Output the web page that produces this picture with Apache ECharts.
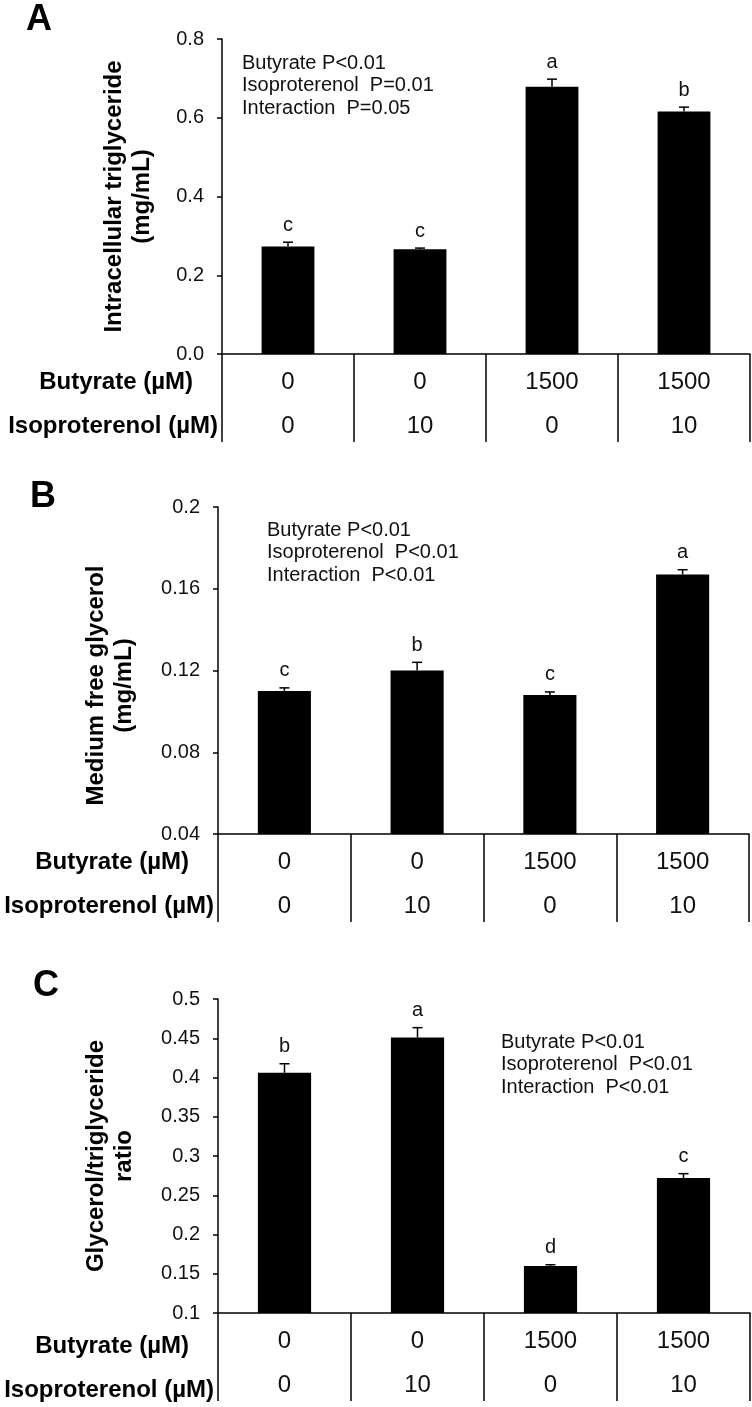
<!DOCTYPE html>
<html>
<head>
<meta charset="utf-8">
<script src="https://cdn.jsdelivr.net/npm/echarts@6/dist/echarts.min.js"></script>
<style>
html,body{margin:0;padding:0;background:#fff;}
#chart{width:752px;height:1407px;}
</style>
</head>
<body>
<div id="chart"></div>
<script>
// ---- data ----
var butyrate = ['0', '0', '1500', '1500'];
var isoproterenol = ['0', '10', '0', '10'];

var triglyceride = [0.273, 0.266, 0.679, 0.616];
var triglycerideErr = [0.011, 0.003, 0.019, 0.011];
var triglycerideLetters = ['c', 'c', 'a', 'b'];

var glycerol = [0.110, 0.120, 0.108, 0.167];
var glycerolErr = [0.0015, 0.004, 0.0015, 0.0023];
var glycerolLetters = ['c', 'b', 'c', 'a'];

var ratio = [0.406, 0.451, 0.160, 0.272];
var ratioErr = [0.0115, 0.0125, 0.0015, 0.0055];
var ratioLetters = ['b', 'a', 'd', 'c'];

var statsA = ['Butyrate P<0.01', 'Isoproterenol  P=0.01', 'Interaction  P=0.05'];
var statsB = ['Butyrate P<0.01', 'Isoproterenol  P<0.01', 'Interaction  P<0.01'];
var statsC = ['Butyrate P<0.01', 'Isoproterenol  P<0.01', 'Interaction  P<0.01'];

var rowLabels = ['Butyrate (\u00b5M)', 'Isoproterenol (\u00b5M)'];
var panelLetters = ['A', 'B', 'C'];
var yTitles = ['Intracellular triglyceride\n(mg/mL)', 'Medium free glycerol\n(mg/mL)', 'Glycerol/triglyceride\nratio'];

// ---- chart ----
var FONT = "'Liberation Sans', Arial, Helvetica, sans-serif";
var categories = butyrate.map(function (b, i) { return b + ' / ' + isoproterenol[i]; });

var grids = [
  {left: 222, top: 39, width: 528, height: 315},
  {left: 218, top: 507, width: 531, height: 327},
  {left: 218, top: 999, width: 532, height: 319}
];
var yRanges = [
  {min: 0, max: 0.8, interval: 0.2, dec: 1, gap: 66},
  {min: 0.04, max: 0.2, interval: 0.04, dec: 2, gap: 80},
  {min: 0.1, max: 0.5, interval: 0.05, dec: 2, gap: 80}
];
var values = [triglyceride, glycerol, ratio];
var errs = [triglycerideErr, glycerolErr, ratioErr];
var letters = [triglycerideLetters, glycerolLetters, ratioLetters];
var stats = [statsA, statsB, statsC];
var statsPos = [[242, 63], [267, 530], [501, 1042]];
var letterPos = [[39, 20], [43, 497], [46, 986]];

var xAxes = [], yAxes = [], series = [], graphics = [];

grids.forEach(function (g, k) {
  xAxes.push({
    type: 'category', gridIndex: k, data: categories,
    axisLine: {show: true, lineStyle: {color: '#000', width: 1.5}},
    axisTick: {show: true, interval: 0, length: 88, lineStyle: {color: '#000', width: 1.5}},
    axisLabel: {
      interval: 0, margin: 6, fontSize: 24, lineHeight: 44, color: '#111', fontFamily: FONT,
      formatter: function (v, i) { return butyrate[i] + '\n' + isoproterenol[i]; }
    },
    splitLine: {show: false}
  });
  var r = yRanges[k];
  yAxes.push({
    type: 'value', gridIndex: k, min: r.min, max: r.max, interval: r.interval,
    name: yTitles[k], nameLocation: 'middle', nameRotate: 90, nameGap: r.gap,
    nameTextStyle: {fontSize: 24, fontWeight: 'bold', lineHeight: 28, color: '#000', fontFamily: FONT,
      padding: k === 1 ? [0, 30, 0, 0] : 0},
    axisLine: {show: true, lineStyle: {color: '#000', width: 1.5}},
    axisTick: {show: true, length: 5, lineStyle: {color: '#000', width: 1.5}},
    axisLabel: {
      fontSize: 20, margin: 18, color: '#111', fontFamily: FONT,
      formatter: function (v) { return r.dec === 1 ? v.toFixed(1) : String(parseFloat(v.toFixed(2))); }
    },
    splitLine: {show: false}
  });
  series.push({
    type: 'bar', xAxisIndex: k, yAxisIndex: k, data: values[k], barWidth: '40%',
    itemStyle: {color: '#000'}, silent: true, animation: false
  });
  var errData = values[k].map(function (v, i) { return [i, v, errs[k][i]]; });
  (function (kk) {
    series.push({
      type: 'custom', xAxisIndex: kk, yAxisIndex: kk, data: errData, z: 5, animation: false, silent: true,
      renderItem: function (params, api) {
        var i = api.value(0), v = api.value(1), e = api.value(2);
        var base = api.coord([i, v]);
        var top = api.coord([i, v + e]);
        return {
          type: 'group',
          children: [
            {type: 'line', shape: {x1: base[0], y1: base[1], x2: top[0], y2: top[1]}, style: {stroke: '#000', lineWidth: 1.5}},
            {type: 'line', shape: {x1: top[0] - 5, y1: top[1], x2: top[0] + 5, y2: top[1]}, style: {stroke: '#000', lineWidth: 1.5}},
            {type: 'text', x: top[0], y: top[1] - 7, style: {text: letters[kk][params.dataIndex], fontSize: 20, fontFamily: FONT,
              fill: '#111', align: 'center', verticalAlign: 'bottom'}}
          ]
        };
      }
    });
  })(k);

  // panel letter
  graphics.push({type: 'text', x: letterPos[k][0], y: letterPos[k][1],
    style: {text: panelLetters[k], fontSize: 36, fontWeight: 'bold', fontFamily: FONT, fill: '#000', align: 'center', verticalAlign: 'middle'}});
  // row headings
  var axisY = g.top + g.height;
  graphics.push({type: 'text', x: g.left - 29, y: axisY + 28,
    style: {text: rowLabels[0], fontSize: 24, fontWeight: 'bold', fontFamily: FONT, fill: '#000', align: 'right', verticalAlign: 'middle'}});
  graphics.push({type: 'text', x: g.left - 4, y: axisY + 72,
    style: {text: rowLabels[1], fontSize: 24, fontWeight: 'bold', fontFamily: FONT, fill: '#000', align: 'right', verticalAlign: 'middle'}});
  // stats annotation
  stats[k].forEach(function (s, j) {
    graphics.push({type: 'text', x: statsPos[k][0], y: statsPos[k][1] + j * 22.5,
      style: {text: s, fontSize: 20, fontFamily: FONT, fill: '#111', align: 'left', verticalAlign: 'middle'}});
  });
});

var chart = echarts.init(document.getElementById('chart'), null, {renderer: 'canvas'});
chart.setOption({
  animation: false,
  backgroundColor: '#fff',
  grid: grids,
  xAxis: xAxes,
  yAxis: yAxes,
  series: series,
  graphic: graphics
});
</script>
</body>
</html>
